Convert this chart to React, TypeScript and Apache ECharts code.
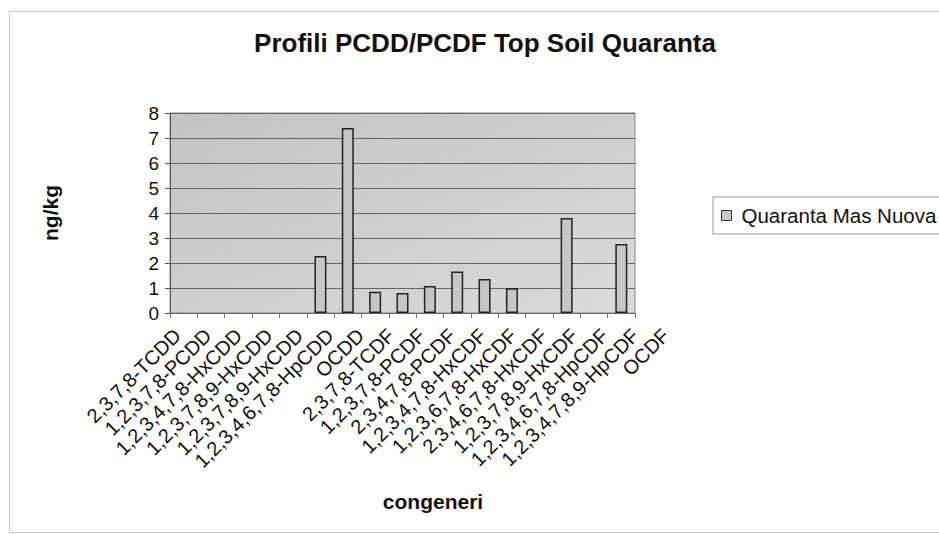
import React, { useEffect, useRef } from "react";
import * as echarts from "echarts";

const categories: string[] = [
  "2,3,7,8-TCDD",
  "1,2,3,7,8-PCDD",
  "1,2,3,4,7,8-HxCDD",
  "1,2,3,7,8,9-HxCDD",
  "1,2,3,7,8,9-HxCDD",
  "1,2,3,4,6,7,8-HpCDD",
  "OCDD",
  "2,3,7,8-TCDF",
  "1,2,3,7,8-PCDF",
  "2,3,4,7,8-PCDF",
  "1,2,3,4,7,8-HxCDF",
  "1,2,3,6,7,8-HxCDF",
  "2,3,4,6,7,8-HxCDF",
  "1,2,3,7,8,9-HxCDF",
  "1,2,3,4,6,7,8-HpCDF",
  "1,2,3,4,7,8,9-HpCDF",
  "OCDF",
];

const seriesName = "Quaranta Mas Nuova";
const values: (number | null)[] = [
  null, null, null, null, null, 2.28, 7.4, 0.85, 0.8, 1.08, 1.66, 1.36, 0.99, null, 3.8, null, 2.76,
];

const yTicks = { min: 0, max: 8, interval: 1 };

const titleText = "Profili PCDD/PCDF Top Soil Quaranta";
const yName = "ng/kg";
const xName = "congeneri";

const FONT = "'Liberation Sans', Arial, sans-serif";

export default function App() {
  const ref = useRef<HTMLDivElement>(null);

  useEffect(() => {
    document.body.style.margin = "0";
    if (!ref.current) return;
    const chart = echarts.init(ref.current, null, { renderer: "svg" });
    chart.setOption({
      animation: false,
      backgroundColor: "#ffffff",
      textStyle: { fontFamily: FONT },
      title: {
        text: titleText,
        left: 480,
        top: 25,
        textAlign: "center",
        textStyle: { fontFamily: FONT, fontSize: 26, fontWeight: "bold", color: "#111" },
      },
      legend: {
        left: 713,
        top: 197,
        padding: [8, 12, 8, 8],
        itemWidth: 10,
        itemHeight: 10,
        icon: "rect",
        borderColor: "#999",
        borderWidth: 1,
        backgroundColor: "#fff",
        data: [seriesName],
        textStyle: { fontFamily: FONT, fontSize: 20.5, color: "#111", padding: [0, 0, 0, 5] },
        itemStyle: { color: "#c6c6c6", borderColor: "#333", borderWidth: 1 },
      },
      grid: [
        {
          left: 170, right: 304, top: 113, bottom: 221, containLabel: false, show: true,
          borderColor: "#888", borderWidth: 1,
          backgroundColor: new echarts.graphic.LinearGradient(0, 0, 1, 1, [
            { offset: 0, color: "#c3c3c3" },
            { offset: 1, color: "#dadada" },
          ]),
        },
        // label row of the category axis, spread slightly wider as in the reference
        { left: 155, right: 265, top: 113, bottom: 221, containLabel: false, show: false },
      ],
      xAxis: [
        {
          type: "category",
          gridIndex: 0,
          data: categories,
          boundaryGap: true,
          axisLine: { show: true, lineStyle: { color: "#666", width: 1 } },
          axisTick: { show: true, alignWithLabel: false, length: 5, lineStyle: { color: "#777" } },
          axisLabel: { show: false, interval: 0 },
          splitLine: { show: false },
        },
        {
          type: "category",
          gridIndex: 1,
          data: categories,
          boundaryGap: true,
          axisLine: { show: false },
          axisTick: { show: false },
          axisLabel: {
            interval: 0,
            rotate: 45,
            margin: 12,
            verticalAlign: "top",
            fontFamily: FONT,
            fontSize: 20,
            color: "#111",
          },
          splitLine: { show: false },
        },
      ],
      yAxis: [
        {
          type: "value",
          gridIndex: 0,
          min: yTicks.min,
          max: yTicks.max,
          interval: yTicks.interval,
          name: yName,
          nameLocation: "middle",
          nameRotate: 90,
          nameGap: 109,
          nameTextStyle: { fontFamily: FONT, fontSize: 21, fontWeight: "bold", color: "#111" },
          axisLine: { show: true, lineStyle: { color: "#555", width: 1 } },
          axisTick: { show: true, length: 5, inside: false, lineStyle: { color: "#555" } },
          axisLabel: { fontFamily: FONT, fontSize: 19, color: "#111", margin: 11 },
          splitLine: { show: true, lineStyle: { color: "#666", width: 1 } },
        },
        {
          type: "value",
          gridIndex: 1,
          min: yTicks.min,
          max: yTicks.max,
          interval: yTicks.interval,
          show: false,
        },
      ],
      graphic: [
        {
          type: "rect",
          silent: true,
          z: -10,
          shape: { x: 9.5, y: 11.5, width: 1000, height: 521 },
          style: { fill: "none", stroke: "#c8c8c8", lineWidth: 1 },
        },
        {
          type: "text",
          x: 433,
          y: 501,
          style: {
            text: xName,
            fontFamily: FONT,
            fontSize: 21,
            fontWeight: "bold",
            fill: "#111",
            align: "center",
            verticalAlign: "middle",
          },
        },
      ],
      series: [
        {
          name: seriesName,
          type: "bar",
          xAxisIndex: 0,
          yAxisIndex: 0,
          data: values,
          barWidth: 12,
          itemStyle: { color: "#c6c6c6", borderColor: "#222", borderWidth: 1.5 },
        },
      ],
    });
    return () => chart.dispose();
  }, []);

  return <div ref={ref} style={{ width: 939, height: 534 }} />;
}
